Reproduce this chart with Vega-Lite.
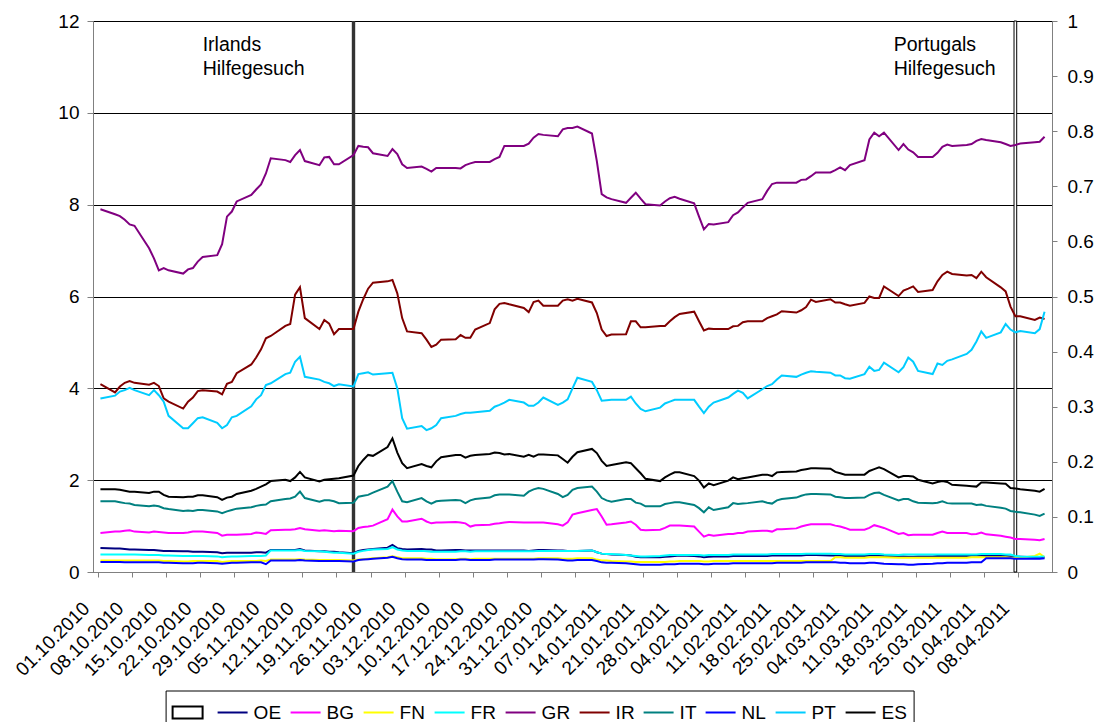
{
"$schema": "https://vega.github.io/schema/vega-lite/v6.json",
"width": 959, "height": 551,
"autosize": {"type": "none"},
"padding": {"left": 93, "top": 21, "right": 46, "bottom": 150},
"background": "white",
"config": {
 "font": "Liberation Sans",
 "view": {"stroke": "#808080", "strokeWidth": 1},
 "axis": {"labelFont": "Liberation Sans", "labelFontSize": 19, "labelColor": "black", "domainColor": "#808080", "tickColor": "#808080", "gridColor": "black", "gridWidth": 1, "gridOpacity": 1, "title": null}
},
"datasets": {
 "r": [
{"d":"2010-10-01","OE":0.52,"BG":0.85,"FN":0.25,"FR":0.38,"GR":7.90,"IR":4.09,"IT":1.54,"NL":0.22,"PT":3.78,"ES":1.80},
{"d":"2010-10-04","OE":0.51,"BG":0.88,"FN":0.25,"FR":0.38,"GR":7.79,"IR":3.91,"IT":1.54,"NL":0.22,"PT":3.84,"ES":1.80},
{"d":"2010-10-05","OE":0.51,"BG":0.88,"FN":0.25,"FR":0.38,"GR":7.75,"IR":4.04,"IT":1.52,"NL":0.22,"PT":3.93,"ES":1.79},
{"d":"2010-10-06","OE":0.50,"BG":0.90,"FN":0.25,"FR":0.38,"GR":7.67,"IR":4.12,"IT":1.50,"NL":0.21,"PT":3.96,"ES":1.77},
{"d":"2010-10-07","OE":0.49,"BG":0.91,"FN":0.25,"FR":0.38,"GR":7.57,"IR":4.16,"IT":1.49,"NL":0.21,"PT":4.01,"ES":1.75},
{"d":"2010-10-08","OE":0.49,"BG":0.88,"FN":0.25,"FR":0.38,"GR":7.54,"IR":4.12,"IT":1.46,"NL":0.21,"PT":3.96,"ES":1.75},
{"d":"2010-10-11","OE":0.48,"BG":0.86,"FN":0.25,"FR":0.37,"GR":7.05,"IR":4.08,"IT":1.43,"NL":0.21,"PT":3.85,"ES":1.72},
{"d":"2010-10-12","OE":0.48,"BG":0.88,"FN":0.25,"FR":0.37,"GR":6.83,"IR":4.12,"IT":1.45,"NL":0.21,"PT":3.96,"ES":1.75},
{"d":"2010-10-13","OE":0.47,"BG":0.87,"FN":0.25,"FR":0.37,"GR":6.57,"IR":4.05,"IT":1.43,"NL":0.21,"PT":3.85,"ES":1.75},
{"d":"2010-10-14","OE":0.46,"BG":0.86,"FN":0.24,"FR":0.36,"GR":6.62,"IR":3.78,"IT":1.39,"NL":0.20,"PT":3.71,"ES":1.68},
{"d":"2010-10-15","OE":0.46,"BG":0.85,"FN":0.24,"FR":0.36,"GR":6.57,"IR":3.71,"IT":1.37,"NL":0.20,"PT":3.40,"ES":1.64},
{"d":"2010-10-18","OE":0.45,"BG":0.85,"FN":0.23,"FR":0.35,"GR":6.50,"IR":3.56,"IT":1.33,"NL":0.19,"PT":3.13,"ES":1.63},
{"d":"2010-10-19","OE":0.45,"BG":0.86,"FN":0.23,"FR":0.35,"GR":6.59,"IR":3.71,"IT":1.34,"NL":0.19,"PT":3.13,"ES":1.64},
{"d":"2010-10-20","OE":0.44,"BG":0.88,"FN":0.24,"FR":0.35,"GR":6.62,"IR":3.80,"IT":1.33,"NL":0.19,"PT":3.24,"ES":1.64},
{"d":"2010-10-21","OE":0.44,"BG":0.88,"FN":0.24,"FR":0.35,"GR":6.76,"IR":3.94,"IT":1.35,"NL":0.20,"PT":3.35,"ES":1.67},
{"d":"2010-10-22","OE":0.44,"BG":0.88,"FN":0.24,"FR":0.35,"GR":6.86,"IR":3.96,"IT":1.35,"NL":0.20,"PT":3.37,"ES":1.67},
{"d":"2010-10-25","OE":0.43,"BG":0.85,"FN":0.24,"FR":0.34,"GR":6.90,"IR":3.93,"IT":1.32,"NL":0.19,"PT":3.25,"ES":1.63},
{"d":"2010-10-26","OE":0.41,"BG":0.79,"FN":0.22,"FR":0.32,"GR":7.14,"IR":3.87,"IT":1.28,"NL":0.18,"PT":3.13,"ES":1.57},
{"d":"2010-10-27","OE":0.42,"BG":0.81,"FN":0.23,"FR":0.33,"GR":7.74,"IR":4.10,"IT":1.32,"NL":0.19,"PT":3.20,"ES":1.62},
{"d":"2010-10-28","OE":0.42,"BG":0.81,"FN":0.24,"FR":0.34,"GR":7.85,"IR":4.14,"IT":1.35,"NL":0.20,"PT":3.37,"ES":1.64},
{"d":"2010-10-29","OE":0.42,"BG":0.81,"FN":0.24,"FR":0.34,"GR":8.07,"IR":4.33,"IT":1.38,"NL":0.20,"PT":3.40,"ES":1.70},
{"d":"2010-11-01","OE":0.42,"BG":0.83,"FN":0.24,"FR":0.35,"GR":8.21,"IR":4.52,"IT":1.41,"NL":0.21,"PT":3.61,"ES":1.77},
{"d":"2010-11-02","OE":0.43,"BG":0.86,"FN":0.24,"FR":0.35,"GR":8.33,"IR":4.67,"IT":1.44,"NL":0.21,"PT":3.76,"ES":1.81},
{"d":"2010-11-03","OE":0.43,"BG":0.85,"FN":0.25,"FR":0.35,"GR":8.44,"IR":4.85,"IT":1.46,"NL":0.21,"PT":3.85,"ES":1.86},
{"d":"2010-11-04","OE":0.42,"BG":0.83,"FN":0.24,"FR":0.36,"GR":8.68,"IR":5.09,"IT":1.47,"NL":0.17,"PT":4.07,"ES":1.91},
{"d":"2010-11-05","OE":0.48,"BG":0.91,"FN":0.27,"FR":0.47,"GR":9.01,"IR":5.14,"IT":1.54,"NL":0.25,"PT":4.11,"ES":1.98},
{"d":"2010-11-08","OE":0.48,"BG":0.92,"FN":0.27,"FR":0.47,"GR":8.97,"IR":5.36,"IT":1.59,"NL":0.25,"PT":4.31,"ES":2.01},
{"d":"2010-11-09","OE":0.48,"BG":0.92,"FN":0.27,"FR":0.47,"GR":8.93,"IR":5.40,"IT":1.60,"NL":0.25,"PT":4.34,"ES":1.98},
{"d":"2010-11-10","OE":0.48,"BG":0.93,"FN":0.27,"FR":0.47,"GR":9.08,"IR":6.04,"IT":1.64,"NL":0.25,"PT":4.58,"ES":2.06},
{"d":"2010-11-11","OE":0.50,"BG":0.96,"FN":0.28,"FR":0.48,"GR":9.19,"IR":6.20,"IT":1.75,"NL":0.26,"PT":4.69,"ES":2.18},
{"d":"2010-11-12","OE":0.47,"BG":0.93,"FN":0.27,"FR":0.46,"GR":8.95,"IR":5.53,"IT":1.61,"NL":0.25,"PT":4.25,"ES":2.06},
{"d":"2010-11-15","OE":0.45,"BG":0.90,"FN":0.26,"FR":0.45,"GR":8.86,"IR":5.29,"IT":1.53,"NL":0.24,"PT":4.19,"ES":1.97},
{"d":"2010-11-16","OE":0.45,"BG":0.91,"FN":0.26,"FR":0.44,"GR":9.03,"IR":5.49,"IT":1.56,"NL":0.24,"PT":4.14,"ES":2.01},
{"d":"2010-11-17","OE":0.44,"BG":0.90,"FN":0.26,"FR":0.43,"GR":9.04,"IR":5.41,"IT":1.56,"NL":0.24,"PT":4.11,"ES":2.02},
{"d":"2010-11-18","OE":0.44,"BG":0.89,"FN":0.26,"FR":0.42,"GR":8.88,"IR":5.18,"IT":1.54,"NL":0.24,"PT":4.05,"ES":2.03},
{"d":"2010-11-19","OE":0.43,"BG":0.90,"FN":0.26,"FR":0.42,"GR":8.88,"IR":5.29,"IT":1.50,"NL":0.24,"PT":4.09,"ES":2.04},
{"d":"2010-11-22","OE":0.41,"BG":0.89,"FN":0.25,"FR":0.40,"GR":9.08,"IR":5.29,"IT":1.51,"NL":0.23,"PT":4.04,"ES":2.10},
{"d":"2010-11-23","OE":0.46,"BG":0.96,"FN":0.27,"FR":0.44,"GR":9.28,"IR":5.67,"IT":1.64,"NL":0.26,"PT":4.31,"ES":2.31},
{"d":"2010-11-24","OE":0.48,"BG":0.98,"FN":0.28,"FR":0.46,"GR":9.26,"IR":5.94,"IT":1.66,"NL":0.27,"PT":4.33,"ES":2.44},
{"d":"2010-11-25","OE":0.49,"BG":0.99,"FN":0.29,"FR":0.48,"GR":9.25,"IR":6.17,"IT":1.68,"NL":0.28,"PT":4.35,"ES":2.55},
{"d":"2010-11-26","OE":0.50,"BG":1.01,"FN":0.30,"FR":0.49,"GR":9.12,"IR":6.30,"IT":1.73,"NL":0.29,"PT":4.30,"ES":2.53},
{"d":"2010-11-29","OE":0.53,"BG":1.15,"FN":0.32,"FR":0.50,"GR":9.06,"IR":6.33,"IT":1.86,"NL":0.31,"PT":4.33,"ES":2.72},
{"d":"2010-11-30","OE":0.59,"BG":1.36,"FN":0.34,"FR":0.54,"GR":9.21,"IR":6.36,"IT":1.98,"NL":0.33,"PT":4.34,"ES":2.91},
{"d":"2010-12-01","OE":0.52,"BG":1.21,"FN":0.32,"FR":0.49,"GR":9.10,"IR":6.07,"IT":1.75,"NL":0.30,"PT":4.00,"ES":2.60},
{"d":"2010-12-02","OE":0.50,"BG":1.10,"FN":0.30,"FR":0.47,"GR":8.88,"IR":5.53,"IT":1.54,"NL":0.28,"PT":3.35,"ES":2.37},
{"d":"2010-12-03","OE":0.49,"BG":1.10,"FN":0.30,"FR":0.46,"GR":8.80,"IR":5.24,"IT":1.52,"NL":0.27,"PT":3.12,"ES":2.26},
{"d":"2010-12-06","OE":0.50,"BG":1.16,"FN":0.30,"FR":0.46,"GR":8.83,"IR":5.20,"IT":1.61,"NL":0.27,"PT":3.18,"ES":2.35},
{"d":"2010-12-07","OE":0.49,"BG":1.10,"FN":0.29,"FR":0.45,"GR":8.78,"IR":5.06,"IT":1.54,"NL":0.26,"PT":3.09,"ES":2.31},
{"d":"2010-12-08","OE":0.49,"BG":1.06,"FN":0.29,"FR":0.44,"GR":8.72,"IR":4.90,"IT":1.49,"NL":0.26,"PT":3.13,"ES":2.28},
{"d":"2010-12-09","OE":0.47,"BG":1.08,"FN":0.28,"FR":0.44,"GR":8.80,"IR":4.95,"IT":1.54,"NL":0.26,"PT":3.20,"ES":2.41},
{"d":"2010-12-10","OE":0.47,"BG":1.08,"FN":0.28,"FR":0.44,"GR":8.80,"IR":5.06,"IT":1.55,"NL":0.26,"PT":3.35,"ES":2.50},
{"d":"2010-12-13","OE":0.48,"BG":1.09,"FN":0.28,"FR":0.44,"GR":8.80,"IR":5.07,"IT":1.57,"NL":0.26,"PT":3.40,"ES":2.55},
{"d":"2010-12-14","OE":0.48,"BG":1.08,"FN":0.29,"FR":0.45,"GR":8.79,"IR":5.16,"IT":1.56,"NL":0.27,"PT":3.44,"ES":2.55},
{"d":"2010-12-15","OE":0.47,"BG":1.06,"FN":0.29,"FR":0.45,"GR":8.86,"IR":5.10,"IT":1.50,"NL":0.27,"PT":3.47,"ES":2.49},
{"d":"2010-12-16","OE":0.47,"BG":0.99,"FN":0.28,"FR":0.44,"GR":8.90,"IR":5.10,"IT":1.56,"NL":0.26,"PT":3.47,"ES":2.53},
{"d":"2010-12-17","OE":0.47,"BG":1.02,"FN":0.29,"FR":0.45,"GR":8.93,"IR":5.28,"IT":1.59,"NL":0.26,"PT":3.48,"ES":2.55},
{"d":"2010-12-20","OE":0.47,"BG":1.03,"FN":0.29,"FR":0.45,"GR":8.93,"IR":5.42,"IT":1.62,"NL":0.26,"PT":3.51,"ES":2.57},
{"d":"2010-12-21","OE":0.47,"BG":1.05,"FN":0.29,"FR":0.45,"GR":8.99,"IR":5.72,"IT":1.67,"NL":0.27,"PT":3.60,"ES":2.60},
{"d":"2010-12-22","OE":0.47,"BG":1.06,"FN":0.29,"FR":0.45,"GR":9.04,"IR":5.84,"IT":1.69,"NL":0.27,"PT":3.64,"ES":2.59},
{"d":"2010-12-23","OE":0.47,"BG":1.08,"FN":0.29,"FR":0.45,"GR":9.28,"IR":5.86,"IT":1.69,"NL":0.27,"PT":3.69,"ES":2.56},
{"d":"2010-12-24","OE":0.47,"BG":1.09,"FN":0.29,"FR":0.45,"GR":9.28,"IR":5.83,"IT":1.69,"NL":0.27,"PT":3.75,"ES":2.57},
{"d":"2010-12-27","OE":0.47,"BG":1.08,"FN":0.29,"FR":0.45,"GR":9.28,"IR":5.75,"IT":1.66,"NL":0.27,"PT":3.69,"ES":2.51},
{"d":"2010-12-28","OE":0.46,"BG":1.08,"FN":0.29,"FR":0.45,"GR":9.33,"IR":5.66,"IT":1.75,"NL":0.27,"PT":3.62,"ES":2.55},
{"d":"2010-12-29","OE":0.47,"BG":1.08,"FN":0.29,"FR":0.45,"GR":9.46,"IR":5.88,"IT":1.80,"NL":0.27,"PT":3.62,"ES":2.51},
{"d":"2010-12-30","OE":0.48,"BG":1.08,"FN":0.30,"FR":0.46,"GR":9.54,"IR":5.91,"IT":1.83,"NL":0.28,"PT":3.69,"ES":2.56},
{"d":"2010-12-31","OE":0.48,"BG":1.08,"FN":0.30,"FR":0.46,"GR":9.52,"IR":5.80,"IT":1.81,"NL":0.28,"PT":3.80,"ES":2.56},
{"d":"2011-01-03","OE":0.47,"BG":1.04,"FN":0.30,"FR":0.46,"GR":9.49,"IR":5.80,"IT":1.70,"NL":0.27,"PT":3.64,"ES":2.54},
{"d":"2011-01-04","OE":0.47,"BG":1.01,"FN":0.29,"FR":0.46,"GR":9.64,"IR":5.91,"IT":1.63,"NL":0.26,"PT":3.69,"ES":2.46},
{"d":"2011-01-05","OE":0.46,"BG":1.08,"FN":0.29,"FR":0.46,"GR":9.67,"IR":5.94,"IT":1.68,"NL":0.25,"PT":3.76,"ES":2.38},
{"d":"2011-01-06","OE":0.46,"BG":1.25,"FN":0.29,"FR":0.46,"GR":9.67,"IR":5.91,"IT":1.79,"NL":0.25,"PT":4.00,"ES":2.51},
{"d":"2011-01-07","OE":0.46,"BG":1.28,"FN":0.30,"FR":0.46,"GR":9.70,"IR":5.95,"IT":1.83,"NL":0.26,"PT":4.23,"ES":2.61},
{"d":"2011-01-10","OE":0.47,"BG":1.35,"FN":0.30,"FR":0.47,"GR":9.55,"IR":5.87,"IT":1.86,"NL":0.26,"PT":4.14,"ES":2.68},
{"d":"2011-01-11","OE":0.43,"BG":1.37,"FN":0.27,"FR":0.43,"GR":8.95,"IR":5.64,"IT":1.75,"NL":0.24,"PT":3.96,"ES":2.59},
{"d":"2011-01-12","OE":0.40,"BG":1.21,"FN":0.25,"FR":0.40,"GR":8.23,"IR":5.28,"IT":1.61,"NL":0.21,"PT":3.73,"ES":2.42},
{"d":"2011-01-13","OE":0.39,"BG":1.03,"FN":0.25,"FR":0.39,"GR":8.16,"IR":5.14,"IT":1.56,"NL":0.20,"PT":3.74,"ES":2.31},
{"d":"2011-01-14","OE":0.38,"BG":1.04,"FN":0.24,"FR":0.39,"GR":8.12,"IR":5.17,"IT":1.53,"NL":0.20,"PT":3.75,"ES":2.33},
{"d":"2011-01-17","OE":0.37,"BG":1.08,"FN":0.23,"FR":0.37,"GR":8.04,"IR":5.18,"IT":1.59,"NL":0.19,"PT":3.75,"ES":2.39},
{"d":"2011-01-18","OE":0.36,"BG":1.10,"FN":0.23,"FR":0.36,"GR":8.15,"IR":5.46,"IT":1.59,"NL":0.18,"PT":3.82,"ES":2.37},
{"d":"2011-01-19","OE":0.33,"BG":1.03,"FN":0.22,"FR":0.35,"GR":8.26,"IR":5.46,"IT":1.51,"NL":0.17,"PT":3.67,"ES":2.26},
{"d":"2011-01-20","OE":0.32,"BG":0.92,"FN":0.22,"FR":0.34,"GR":8.13,"IR":5.33,"IT":1.49,"NL":0.16,"PT":3.55,"ES":2.15},
{"d":"2011-01-21","OE":0.32,"BG":0.91,"FN":0.22,"FR":0.34,"GR":8.01,"IR":5.33,"IT":1.43,"NL":0.16,"PT":3.50,"ES":2.03},
{"d":"2011-01-24","OE":0.32,"BG":0.92,"FN":0.22,"FR":0.35,"GR":7.98,"IR":5.36,"IT":1.43,"NL":0.16,"PT":3.58,"ES":1.98},
{"d":"2011-01-25","OE":0.33,"BG":0.96,"FN":0.22,"FR":0.36,"GR":8.07,"IR":5.36,"IT":1.48,"NL":0.17,"PT":3.67,"ES":2.06},
{"d":"2011-01-26","OE":0.34,"BG":1.01,"FN":0.23,"FR":0.37,"GR":8.14,"IR":5.46,"IT":1.50,"NL":0.17,"PT":3.71,"ES":2.12},
{"d":"2011-01-27","OE":0.35,"BG":1.01,"FN":0.23,"FR":0.37,"GR":8.17,"IR":5.55,"IT":1.52,"NL":0.17,"PT":3.75,"ES":2.17},
{"d":"2011-01-28","OE":0.36,"BG":1.01,"FN":0.24,"FR":0.37,"GR":8.13,"IR":5.62,"IT":1.52,"NL":0.18,"PT":3.75,"ES":2.17},
{"d":"2011-01-31","OE":0.35,"BG":0.99,"FN":0.24,"FR":0.37,"GR":8.03,"IR":5.67,"IT":1.46,"NL":0.18,"PT":3.75,"ES":2.09},
{"d":"2011-02-01","OE":0.34,"BG":0.88,"FN":0.24,"FR":0.37,"GR":7.74,"IR":5.46,"IT":1.39,"NL":0.18,"PT":3.60,"ES":1.99},
{"d":"2011-02-02","OE":0.32,"BG":0.77,"FN":0.23,"FR":0.36,"GR":7.46,"IR":5.26,"IT":1.30,"NL":0.17,"PT":3.46,"ES":1.84},
{"d":"2011-02-03","OE":0.33,"BG":0.81,"FN":0.23,"FR":0.37,"GR":7.58,"IR":5.30,"IT":1.41,"NL":0.17,"PT":3.60,"ES":1.93},
{"d":"2011-02-04","OE":0.34,"BG":0.79,"FN":0.24,"FR":0.37,"GR":7.57,"IR":5.29,"IT":1.35,"NL":0.18,"PT":3.69,"ES":1.89},
{"d":"2011-02-07","OE":0.34,"BG":0.83,"FN":0.24,"FR":0.37,"GR":7.62,"IR":5.29,"IT":1.41,"NL":0.18,"PT":3.80,"ES":1.99},
{"d":"2011-02-08","OE":0.35,"BG":0.83,"FN":0.24,"FR":0.38,"GR":7.77,"IR":5.35,"IT":1.50,"NL":0.19,"PT":3.88,"ES":2.06},
{"d":"2011-02-09","OE":0.35,"BG":0.85,"FN":0.24,"FR":0.38,"GR":7.83,"IR":5.36,"IT":1.48,"NL":0.19,"PT":3.95,"ES":2.02},
{"d":"2011-02-10","OE":0.35,"BG":0.85,"FN":0.24,"FR":0.38,"GR":7.94,"IR":5.44,"IT":1.49,"NL":0.19,"PT":3.90,"ES":2.04},
{"d":"2011-02-11","OE":0.35,"BG":0.88,"FN":0.24,"FR":0.38,"GR":8.04,"IR":5.46,"IT":1.50,"NL":0.19,"PT":3.78,"ES":2.06},
{"d":"2011-02-14","OE":0.35,"BG":0.90,"FN":0.24,"FR":0.38,"GR":8.12,"IR":5.46,"IT":1.54,"NL":0.19,"PT":3.98,"ES":2.12},
{"d":"2011-02-15","OE":0.35,"BG":0.90,"FN":0.24,"FR":0.38,"GR":8.30,"IR":5.53,"IT":1.51,"NL":0.19,"PT":4.05,"ES":2.12},
{"d":"2011-02-16","OE":0.36,"BG":0.88,"FN":0.24,"FR":0.39,"GR":8.45,"IR":5.57,"IT":1.49,"NL":0.19,"PT":4.09,"ES":2.09},
{"d":"2011-02-17","OE":0.36,"BG":0.93,"FN":0.24,"FR":0.39,"GR":8.48,"IR":5.61,"IT":1.56,"NL":0.20,"PT":4.19,"ES":2.17},
{"d":"2011-02-18","OE":0.36,"BG":0.93,"FN":0.24,"FR":0.39,"GR":8.48,"IR":5.68,"IT":1.59,"NL":0.20,"PT":4.28,"ES":2.18},
{"d":"2011-02-21","OE":0.36,"BG":0.95,"FN":0.24,"FR":0.39,"GR":8.48,"IR":5.65,"IT":1.62,"NL":0.20,"PT":4.25,"ES":2.19},
{"d":"2011-02-22","OE":0.36,"BG":0.99,"FN":0.24,"FR":0.39,"GR":8.54,"IR":5.70,"IT":1.66,"NL":0.20,"PT":4.30,"ES":2.22},
{"d":"2011-02-23","OE":0.37,"BG":1.02,"FN":0.24,"FR":0.40,"GR":8.55,"IR":5.77,"IT":1.69,"NL":0.21,"PT":4.34,"ES":2.24},
{"d":"2011-02-24","OE":0.37,"BG":1.04,"FN":0.24,"FR":0.40,"GR":8.62,"IR":5.93,"IT":1.70,"NL":0.21,"PT":4.37,"ES":2.26},
{"d":"2011-02-25","OE":0.37,"BG":1.04,"FN":0.24,"FR":0.40,"GR":8.70,"IR":5.88,"IT":1.70,"NL":0.21,"PT":4.36,"ES":2.26},
{"d":"2011-02-28","OE":0.36,"BG":1.04,"FN":0.24,"FR":0.40,"GR":8.70,"IR":5.94,"IT":1.69,"NL":0.21,"PT":4.34,"ES":2.25},
{"d":"2011-03-01","OE":0.36,"BG":1.01,"FN":0.32,"FR":0.39,"GR":8.75,"IR":5.87,"IT":1.64,"NL":0.21,"PT":4.28,"ES":2.18},
{"d":"2011-03-02","OE":0.36,"BG":0.99,"FN":0.32,"FR":0.39,"GR":8.81,"IR":5.87,"IT":1.63,"NL":0.20,"PT":4.28,"ES":2.15},
{"d":"2011-03-03","OE":0.35,"BG":0.96,"FN":0.31,"FR":0.38,"GR":8.75,"IR":5.83,"IT":1.61,"NL":0.20,"PT":4.22,"ES":2.12},
{"d":"2011-03-04","OE":0.35,"BG":0.92,"FN":0.31,"FR":0.38,"GR":8.86,"IR":5.80,"IT":1.61,"NL":0.19,"PT":4.21,"ES":2.12},
{"d":"2011-03-07","OE":0.35,"BG":0.92,"FN":0.31,"FR":0.38,"GR":8.97,"IR":5.86,"IT":1.62,"NL":0.19,"PT":4.31,"ES":2.12},
{"d":"2011-03-08","OE":0.36,"BG":0.96,"FN":0.32,"FR":0.39,"GR":9.42,"IR":6.00,"IT":1.68,"NL":0.20,"PT":4.47,"ES":2.20},
{"d":"2011-03-09","OE":0.36,"BG":1.02,"FN":0.32,"FR":0.39,"GR":9.57,"IR":5.97,"IT":1.72,"NL":0.20,"PT":4.38,"ES":2.24},
{"d":"2011-03-10","OE":0.36,"BG":0.99,"FN":0.32,"FR":0.39,"GR":9.49,"IR":5.97,"IT":1.73,"NL":0.19,"PT":4.40,"ES":2.28},
{"d":"2011-03-11","OE":0.35,"BG":0.96,"FN":0.32,"FR":0.38,"GR":9.57,"IR":6.22,"IT":1.68,"NL":0.18,"PT":4.56,"ES":2.24},
{"d":"2011-03-14","OE":0.34,"BG":0.83,"FN":0.31,"FR":0.37,"GR":9.19,"IR":6.01,"IT":1.56,"NL":0.17,"PT":4.35,"ES":2.06},
{"d":"2011-03-15","OE":0.34,"BG":0.85,"FN":0.31,"FR":0.38,"GR":9.32,"IR":6.13,"IT":1.59,"NL":0.17,"PT":4.46,"ES":2.09},
{"d":"2011-03-16","OE":0.33,"BG":0.80,"FN":0.31,"FR":0.38,"GR":9.20,"IR":6.17,"IT":1.59,"NL":0.16,"PT":4.67,"ES":2.09},
{"d":"2011-03-17","OE":0.33,"BG":0.81,"FN":0.31,"FR":0.38,"GR":9.14,"IR":6.22,"IT":1.54,"NL":0.16,"PT":4.58,"ES":2.08},
{"d":"2011-03-18","OE":0.34,"BG":0.81,"FN":0.31,"FR":0.38,"GR":9.04,"IR":6.10,"IT":1.51,"NL":0.17,"PT":4.38,"ES":2.01},
{"d":"2011-03-21","OE":0.34,"BG":0.81,"FN":0.31,"FR":0.38,"GR":9.04,"IR":6.14,"IT":1.50,"NL":0.18,"PT":4.31,"ES":1.93},
{"d":"2011-03-22","OE":0.35,"BG":0.85,"FN":0.31,"FR":0.38,"GR":9.13,"IR":6.33,"IT":1.51,"NL":0.19,"PT":4.54,"ES":1.96},
{"d":"2011-03-23","OE":0.35,"BG":0.88,"FN":0.31,"FR":0.38,"GR":9.26,"IR":6.47,"IT":1.54,"NL":0.19,"PT":4.51,"ES":1.98},
{"d":"2011-03-24","OE":0.35,"BG":0.85,"FN":0.31,"FR":0.38,"GR":9.31,"IR":6.54,"IT":1.50,"NL":0.20,"PT":4.60,"ES":1.96},
{"d":"2011-03-25","OE":0.35,"BG":0.85,"FN":0.31,"FR":0.38,"GR":9.28,"IR":6.49,"IT":1.49,"NL":0.20,"PT":4.63,"ES":1.90},
{"d":"2011-03-28","OE":0.35,"BG":0.85,"FN":0.31,"FR":0.38,"GR":9.30,"IR":6.46,"IT":1.49,"NL":0.20,"PT":4.75,"ES":1.88},
{"d":"2011-03-29","OE":0.36,"BG":0.82,"FN":0.32,"FR":0.38,"GR":9.32,"IR":6.47,"IT":1.49,"NL":0.21,"PT":4.84,"ES":1.87},
{"d":"2011-03-30","OE":0.36,"BG":0.83,"FN":0.32,"FR":0.38,"GR":9.39,"IR":6.40,"IT":1.46,"NL":0.21,"PT":5.02,"ES":1.86},
{"d":"2011-03-31","OE":0.36,"BG":0.86,"FN":0.32,"FR":0.39,"GR":9.43,"IR":6.54,"IT":1.47,"NL":0.21,"PT":5.24,"ES":1.95},
{"d":"2011-04-01","OE":0.35,"BG":0.82,"FN":0.32,"FR":0.39,"GR":9.41,"IR":6.42,"IT":1.44,"NL":0.30,"PT":5.10,"ES":1.95},
{"d":"2011-04-04","OE":0.35,"BG":0.79,"FN":0.32,"FR":0.39,"GR":9.36,"IR":6.20,"IT":1.40,"NL":0.30,"PT":5.22,"ES":1.93},
{"d":"2011-04-05","OE":0.35,"BG":0.77,"FN":0.32,"FR":0.38,"GR":9.32,"IR":6.11,"IT":1.38,"NL":0.30,"PT":5.40,"ES":1.92},
{"d":"2011-04-06","OE":0.34,"BG":0.75,"FN":0.31,"FR":0.38,"GR":9.28,"IR":5.78,"IT":1.33,"NL":0.30,"PT":5.28,"ES":1.83},
{"d":"2011-04-07","OE":0.33,"BG":0.72,"FN":0.31,"FR":0.35,"GR":9.30,"IR":5.57,"IT":1.31,"NL":0.29,"PT":5.22,"ES":1.82},
{"d":"2011-04-08","OE":0.33,"BG":0.72,"FN":0.31,"FR":0.34,"GR":9.33,"IR":5.57,"IT":1.30,"NL":0.29,"PT":5.25,"ES":1.80},
{"d":"2011-04-11","OE":0.32,"BG":0.70,"FN":0.35,"FR":0.33,"GR":9.36,"IR":5.49,"IT":1.25,"NL":0.29,"PT":5.20,"ES":1.77},
{"d":"2011-04-12","OE":0.32,"BG":0.69,"FN":0.40,"FR":0.33,"GR":9.37,"IR":5.54,"IT":1.22,"NL":0.29,"PT":5.29,"ES":1.75},
{"d":"2011-04-13","OE":0.32,"BG":0.72,"FN":0.32,"FR":0.34,"GR":9.48,"IR":5.51,"IT":1.27,"NL":0.30,"PT":5.67,"ES":1.81}
 ],
 "ev": [
  {"d":"2010-11-22","e":"IE","v":1},
  {"d":"2011-04-07","e":"PT","v":1}
 ],
 "notes": [
  {"d":"2010-10-22","y":11.35,"t":"Irlands\nHilfegesuch"},
  {"d":"2011-03-13","y":11.35,"t":"Portugals\nHilfegesuch"}
 ]
},
"encoding": {
 "x": {"field": "d", "type": "temporal",
  "scale": {"type": "utc", "domain": [{"year":2010,"month":9,"date":30,"hours":12,"utc":true},{"year":2011,"month":4,"date":13,"hours":12,"utc":true}]},
  "axis": {
   "values": [
    {"year":2010,"month":9,"date":30,"hours":12,"utc":true},
    {"year":2010,"month":10,"date":7,"hours":12,"utc":true},
    {"year":2010,"month":10,"date":14,"hours":12,"utc":true},
    {"year":2010,"month":10,"date":21,"hours":12,"utc":true},
    {"year":2010,"month":10,"date":28,"hours":12,"utc":true},
    {"year":2010,"month":11,"date":4,"hours":12,"utc":true},
    {"year":2010,"month":11,"date":11,"hours":12,"utc":true},
    {"year":2010,"month":11,"date":18,"hours":12,"utc":true},
    {"year":2010,"month":11,"date":25,"hours":12,"utc":true},
    {"year":2010,"month":12,"date":2,"hours":12,"utc":true},
    {"year":2010,"month":12,"date":9,"hours":12,"utc":true},
    {"year":2010,"month":12,"date":16,"hours":12,"utc":true},
    {"year":2010,"month":12,"date":23,"hours":12,"utc":true},
    {"year":2010,"month":12,"date":30,"hours":12,"utc":true},
    {"year":2011,"month":1,"date":6,"hours":12,"utc":true},
    {"year":2011,"month":1,"date":13,"hours":12,"utc":true},
    {"year":2011,"month":1,"date":20,"hours":12,"utc":true},
    {"year":2011,"month":1,"date":27,"hours":12,"utc":true},
    {"year":2011,"month":2,"date":3,"hours":12,"utc":true},
    {"year":2011,"month":2,"date":10,"hours":12,"utc":true},
    {"year":2011,"month":2,"date":17,"hours":12,"utc":true},
    {"year":2011,"month":2,"date":24,"hours":12,"utc":true},
    {"year":2011,"month":3,"date":3,"hours":12,"utc":true},
    {"year":2011,"month":3,"date":10,"hours":12,"utc":true},
    {"year":2011,"month":3,"date":17,"hours":12,"utc":true},
    {"year":2011,"month":3,"date":24,"hours":12,"utc":true},
    {"year":2011,"month":3,"date":31,"hours":12,"utc":true},
    {"year":2011,"month":4,"date":7,"hours":12,"utc":true}
   ],
   "labelExpr": "utcFormat(datum.value + 43200000, '%d.%m.%Y')",
   "labelAngle": -45, "labelAlign": "right", "labelBaseline": "middle",
   "labelOverlap": false, "labelFlush": false, "labelBound": false,
   "tickSize": 5, "labelPadding": 28, "labelOffset": -12, "grid": false, "title": null
  }
 }
},
"layer": [
 {
  "data": {"name": "ev"},
  "mark": {"type": "bar", "stroke": "black"},
  "encoding": {
   "y": {"field": "v", "type": "quantitative", "scale": {"domain": [0, 1]},
    "axis": {"orient": "right", "values": [0,0.1,0.2,0.3,0.4,0.5,0.6,0.7,0.8,0.9,1], "format": ".1~f", "grid": false, "title": null, "tickSize": 5, "labelPadding": 10}},
   "fill": {"condition": {"test": "datum.e == 'IE'", "value": "#333333"}, "value": "white"},
   "strokeWidth": {"condition": {"test": "datum.e == 'IE'", "value": 0}, "value": 1},
   "size": {"condition": {"test": "datum.e == 'IE'", "value": 3.4}, "value": 2.7}
  }
 },
 {
  "data": {"name": "r"},
  "transform": [{"fold": ["OE","BG","FN","FR","GR","IR","IT","NL","PT","ES"], "as": ["s", "v"]}],
  "mark": {"type": "line", "strokeWidth": 2},
  "encoding": {
   "y": {"field": "v", "type": "quantitative", "scale": {"domain": [0, 12]},
    "axis": {"orient": "left", "values": [0,2,4,6,8,10,12], "grid": true, "title": null, "tickSize": 6, "labelPadding": 8}},
   "color": {"field": "s", "type": "nominal",
    "scale": {"domain": ["BOX","OE","BG","FN","FR","GR","IR","IT","NL","PT","ES"],
              "range": ["#000000","#000080","#FF00FF","#FFFF00","#00FFFF","#800080","#800000","#008080","#0000FF","#00CCFF","#000000"]},
    "legend": {
     "orient": "none", "legendX": 72.6, "legendY": 669.5, "direction": "horizontal", "columns": 11, "gridAlign": "each", "title": null,
     "symbolType": "stroke", "symbolSize": 900, "symbolStrokeWidth": 2,
     "labelFontSize": 19, "labelFont": "Liberation Sans", "labelColor": "black", "labelOffset": 5, "columnPadding": 5,
     "padding": 6, "strokeColor": "black", "fillColor": "white",
     "labelExpr": "datum.value == 'BOX' ? '' : datum.value",
     "encode": {"symbols": {"update": {
      "shape": {"signal": "datum.value == 'BOX' ? 'M-1,-0.4H1V0.4H-1Z' : 'stroke'"},
      "fill": {"signal": "datum.value == 'BOX' ? 'white' : 'transparent'"},
      "stroke": {"signal": "datum.value == 'BOX' ? 'black' : scale('color', datum.value)"}
     }}}
    }
   }
  }
 },
 {
  "data": {"name": "notes"},
  "mark": {"type": "text", "align": "left", "baseline": "alphabetic", "fontSize": 19.5, "font": "Liberation Sans", "lineBreak": "\n", "lineHeight": 24, "color": "black"},
  "encoding": {
   "y": {"field": "y", "type": "quantitative", "scale": {"domain": [0, 12]}, "axis": null},
   "text": {"field": "t"}
  }
 }
],
"resolve": {"scale": {"y": "independent"}}
}
